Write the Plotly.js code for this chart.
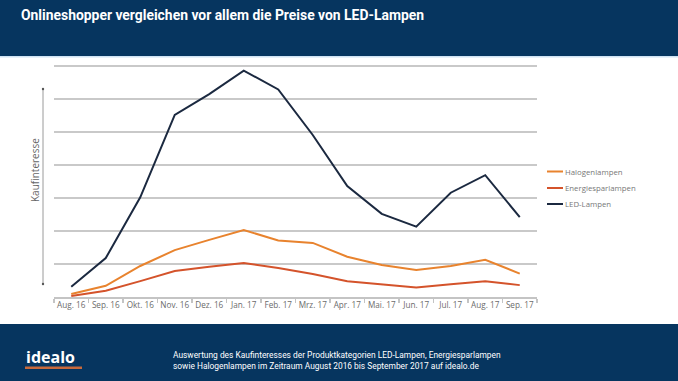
<!DOCTYPE html>
<html>
<head>
<meta charset="utf-8">
<script src="https://cdn.plot.ly/plotly-3.0.1.min.js"></script>
<style>html,body{margin:0;padding:0;background:#fff;}#chart{width:678px;height:381px;}</style>
</head>
<body>
<div id="chart"></div>
<script>
const months = ["Aug. 16","Sep. 16","Okt. 16","Nov. 16","Dez. 16","Jan. 17","Feb. 17","Mrz. 17","Apr. 17","Mai. 17","Jun. 17","Jul. 17","Aug. 17","Sep. 17"];
const seriesNames = ["Halogenlampen", "Energiesparlampen", "LED-Lampen"];
const halogen = [0.9, 3.4, 9.4, 14.2, 17.3, 20.3, 17.1, 16.4, 12.2, 9.7, 8.2, 9.4, 11.3, 7.1];
const energiespar = [0.3, 1.9, 4.8, 7.9, 9.2, 10.3, 8.8, 7.0, 4.8, 3.8, 2.9, 3.9, 4.8, 3.6];
const led = [3.1, 11.8, 30.2, 55.2, 61.5, 68.6, 62.9, 49.1, 33.6, 25.2, 21.3, 31.6, 36.9, 24.2];

const W = 678, H = 381, L = 54, R = 537, T = 64, B = 297;
const px = x => (x - L) / (R - L);
const py = y => (B - y) / (B - T);
const NAVY = "#06355f";
const colors = ["#e8832e", "#d4532b", "#1b2940"];
const values = [halogen, energiespar, led];

const traces = values.map((v, i) => ({
  x: months, y: v, name: seriesNames[i], type: "scatter", mode: "lines",
  line: {color: colors[i], width: 2}, showlegend: false
}));

const legendRows = [171.5, 188, 204];
const legendShapes = legendRows.map((yy, i) => ({
  type: "line", xref: "paper", yref: "paper", x0: px(547), x1: px(563), y0: py(yy), y1: py(yy),
  line: {color: colors[i], width: 2}
}));
const legendTexts = legendRows.map((yy, i) => ({
  text: seriesNames[i], xref: "paper", yref: "paper", x: px(563), y: py(yy), xanchor: "left", yanchor: "middle",
  showarrow: false, font: {family: "Open Sans", size: 7.8, color: "#777"}
}));

const layout = {
  width: W, height: H,
  margin: {l: L, r: W - R, t: T, b: H - B, pad: 0},
  paper_bgcolor: "#ffffff", plot_bgcolor: "#ffffff",
  showlegend: false,
  xaxis: {type: "category", range: [-0.5, 13.5], showgrid: false, zeroline: false,
          showline: true, linecolor: "#c4c4c4", linewidth: 1.5,
          ticks: "outside", tickson: "boundaries", ticklen: 4, tickcolor: "#c4c4c4", tickwidth: 1.5,
          tickfont: {family: "Open Sans", size: 8.2, color: "#6b6b6b"}, tickangle: 0, fixedrange: true},
  yaxis: {range: [0, 70.606], dtick: 10, showticklabels: false, showgrid: true, gridcolor: "#c9c9c9", gridwidth: 1.5,
          zeroline: false, showline: false, ticks: "", fixedrange: true},
  shapes: [
    {type: "rect", xref: "paper", yref: "paper", x0: px(0), x1: px(W), y0: py(56), y1: py(0), fillcolor: NAVY, line: {width: 0}, layer: "below"},
    {type: "rect", xref: "paper", yref: "paper", x0: px(0), x1: px(W), y0: py(57.5), y1: py(56), fillcolor: "#cfe3f3", line: {width: 0}, layer: "below"},
    {type: "rect", xref: "paper", yref: "paper", x0: px(0), x1: px(W), y0: py(H), y1: py(324), fillcolor: NAVY, line: {width: 0}, layer: "below"},
    {type: "rect", xref: "paper", yref: "paper", x0: px(25), x1: px(82), y0: py(369), y1: py(366.5), fillcolor: "#c86a3c", line: {width: 0}},
    {type: "line", xref: "paper", yref: "paper", x0: px(43), x1: px(43), y0: py(284), y1: py(89), line: {color: "#9a9a9a", width: 1}},
    {type: "circle", xref: "paper", yref: "paper", x0: px(41.8), x1: px(44.2), y0: py(90.2), y1: py(87.8), fillcolor: "#555", line: {width: 0}},
    {type: "circle", xref: "paper", yref: "paper", x0: px(41.8), x1: px(44.2), y0: py(285.2), y1: py(282.8), fillcolor: "#555", line: {width: 0}}
  ].concat(legendShapes),
  annotations: [
    {text: "<b>Onlineshopper vergleichen vor allem die Preise von LED-Lampen</b>", xref: "paper", yref: "paper",
     x: px(19), y: py(15), xanchor: "left", yanchor: "middle", showarrow: false,
     font: {family: "Roboto", size: 13.9, color: "#ffffff"}},
    {text: "Kaufinteresse", xref: "paper", yref: "paper", x: px(35), y: py(170), xanchor: "center", yanchor: "middle",
     textangle: -90, showarrow: false, font: {family: "Open Sans", size: 10, color: "#666"}},
    {text: "<b>idealo</b>", xref: "paper", yref: "paper", x: px(24), y: py(357), xanchor: "left", yanchor: "middle",
     showarrow: false, font: {family: "Open Sans", size: 16, color: "#ffffff"}},
    {text: "Auswertung des Kaufinteresses der Produktkategorien LED-Lampen, Energiesparlampen<br>sowie Halogenlampen im Zeitraum August 2016 bis September 2017 auf idealo.de",
     xref: "paper", yref: "paper", x: px(171), y: py(360), xanchor: "left", yanchor: "middle", align: "left",
     showarrow: false, font: {family: "Roboto", size: 8.4, color: "#ffffff"}}
  ].concat(legendTexts)
};

Plotly.newPlot("chart", traces, layout, {displayModeBar: false, staticPlot: true});
</script>
</body>
</html>
